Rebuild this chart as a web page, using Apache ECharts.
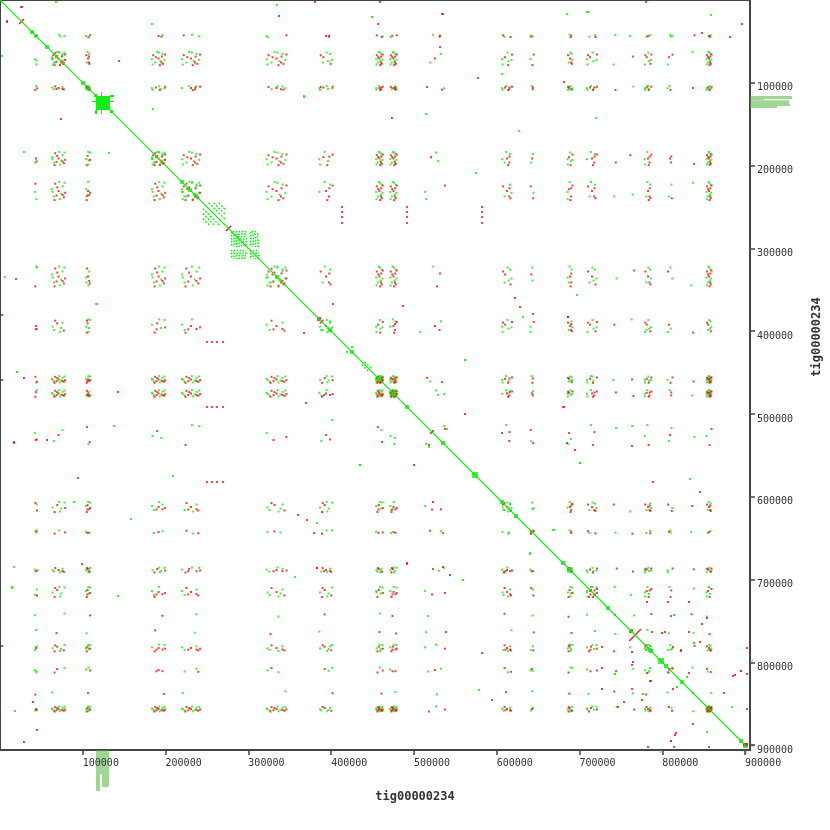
<!DOCTYPE html>
<html>
<head>
<meta charset="utf-8">
<script src="https://cdn.jsdelivr.net/npm/echarts@6/dist/echarts.min.js"></script>
<style>
html, body { margin: 0; padding: 0; background: #fff; }
#chart { width: 830px; height: 830px; }
</style>
</head>
<body>
<div id="chart"></div>
<script>
var seqName = 'tig00000234'
var seqLen = 900000
var axisMax = 906000
var tickStep = 100000

// repeat loci along the contig: centre (bp), half width (bp), strength 0..3
var lociCentre = [43500, 70700, 106300, 191500, 230700, 334000, 393800, 458400, 475300, 525500, 612500, 642700, 688600, 715100, 743000, 763500, 782800, 809400, 837000, 856500]
var lociHalf = [1500, 8000, 2500, 8000, 11000, 12000, 8000, 4000, 4000, 12000, 6000, 2000, 3000, 6000, 2000, 2500, 4000, 3000, 2000, 3000]
var lociWeight = [1, 3, 2, 3, 3, 3, 2, 3, 3, 1, 2, 1, 2, 2, 0, 0, 2, 1, 0, 3]

// hits inside one locus x locus box: u, v (-1..1), 1 = reverse strand
var boxDots = [
	[0.0, 0.0, 1], [-0.7, 0.6, 0], [0.6, -0.5, 0], [0.8, 0.7, 1],
	[-0.5, -0.8, 1], [0.2, 0.9, 0], [-0.9, 0.1, 0], [0.4, 0.3, 0],
	[-0.2, -0.4, 1], [0.9, -0.9, 0], [-0.6, 1.0, 1], [0.1, -1.0, 0],
	[1.0, 0.2, 1], [-1.0, -0.2, 0], [-0.3, 0.5, 1], [0.6, 0.45, 1]
]
var boxDotCount = [1, 3, 8, 16]

// single hits: x, y, reverse
var strays = [
	[402300, 367200, 1], [486800, 369600, 1], [628200, 370900, 1], [631800, 382900, 0],
	[643900, 379300, 1], [686100, 382900, 1], [507400, 401100, 0], [425200, 419200, 0],
	[561700, 434900, 0], [680100, 491700, 1], [561700, 500100, 1], [540000, 518200, 0],
	[694600, 543600, 1], [700600, 559300, 0], [434900, 561700, 0], [523100, 606400, 1],
	[668000, 640200, 0], [491700, 681300, 1], [535100, 684900, 1], [559300, 700600, 0],
	[640200, 669200, 0], [382900, 686100, 1], [2400, 380500, 1], [117200, 367200, 0],
	[20500, 449400, 0], [16900, 533900, 1], [209000, 575000, 0], [137700, 514600, 0],
	[158200, 627000, 0], [14500, 709100, 0], [356400, 697000, 0], [360000, 622100, 1],
	[788800, 582300, 1], [845600, 594300, 1], [833500, 578600, 0], [763500, 538800, 1],
	[25400, 8500, 1], [8500, 26600, 1], [67600, 2400, 0], [334600, 6000, 0],
	[459000, 2400, 1], [780400, 2400, 1], [337000, 19300, 1], [449400, 20500, 0],
	[535100, 16900, 1], [684900, 16900, 0], [710300, 14500, 0], [858900, 18100, 0],
	[896300, 29000, 1], [456600, 29000, 1], [183600, 29000, 0], [848000, 39900, 1],
	[881800, 44700, 1], [531500, 56800, 1], [143800, 73700, 1], [606400, 89400, 0],
	[577400, 94200, 1], [681300, 99100, 1], [367200, 116000, 0], [184800, 131700, 0],
	[720000, 142500, 0], [473500, 142500, 1], [781600, 727200, 1], [806900, 727200, 1],
	[832300, 727200, 1], [814200, 742900, 0], [848000, 753800, 1], [799700, 764700, 1],
	[832300, 763500, 1], [838400, 776700, 0], [813000, 781600, 1], [822600, 786400, 1],
	[763500, 787600, 1], [763500, 803300, 1], [785200, 806900, 0], [742900, 814200, 0],
	[832300, 813000, 1], [829900, 817800, 0], [887900, 815400, 1], [895100, 810600, 1],
	[785200, 822600, 1], [817800, 829900, 0], [776700, 838400, 0], [874600, 837100, 1],
	[775500, 845600, 1], [746500, 854100, 1], [816600, 885500, 1], [810600, 895100, 1],
	[814200, 902400, 1], [782800, 902400, 1], [884300, 854100, 0], [902400, 856500, 1],
	[250000, 413100, 1], [256000, 413100, 1], [262000, 413100, 1], [269400, 413100, 1],
	[250000, 491700, 1], [256000, 491700, 1], [262000, 491700, 1], [269400, 491700, 1],
	[250000, 582300, 1], [256000, 582300, 1], [262000, 582300, 1], [269400, 582300, 1]
]

// small squares sitting on the main diagonal (bp)
var diagBlobs = [38700, 56800, 100300, 219900, 229500, 236800, 334600, 398600, 425200, 457800, 476000, 491700, 535100, 606400, 623300, 680100, 734500, 786400, 804500, 823900, 895100]
var bigDiagBlobs = [573800, 798500]
var redDiagBlobs = [385400]

// reverse-strand crossings: x1, y1, x2, y2
var revSegments = [
	[23000, 29000, 29000, 23000],
	[273000, 279000, 279000, 273000],
	[760000, 774300, 774300, 760000]
]

// tandem repeats: start, end, shifts of the parallel copies
var tandemStart = [245000, 437000]
var tandemEnd = [272000, 449000]
var tandemShifts = [[7000, 13000, 19000], [3600]]

// lattice of a short-period repeat
var latticeSpans = [[279000, 298400], [302000, 312900]]
var latticeStep = 3600

// filled boxes: x1, y1, x2, y2, reverse
var boxes = [
	[116000, 116000, 133000, 133000, 0],
	[113600, 113600, 117200, 117200, 0],
	[132900, 114800, 137700, 117200, 0],
	[114800, 132900, 117200, 137700, 0],
	[132900, 132900, 136500, 136500, 0],
	[111100, 122000, 116000, 123200, 0],
	[133000, 122000, 137700, 123200, 0],
	[122000, 111100, 123200, 116000, 0],
	[122000, 133000, 123200, 137700, 0],
	[759800, 759800, 764700, 764700, 0],
	[897500, 897500, 903500, 901000, 1],
	[897500, 901000, 903500, 903300, 0]
]

// coverage histograms of the tandem block: start, end, depth
var histBins = [
	[116000, 120800, 41], [120800, 123200, 24], [123200, 130500, 37], [130500, 131700, 36],
	[797000, 799000, 3], [899000, 902000, 4]
]
var histBinsY = [
	[116000, 119600, 42], [119600, 121000, 14], [121000, 125600, 39], [125600, 128000, 40],
	[128000, 130500, 27], [797000, 799000, 3], [899000, 902000, 4]
]

var green = '#11ee11'
var red = '#ee1111'
var histGreen = '#9fd694'
var axisColor = '#444'
var monoFont = 'DejaVu Sans Mono'

var greenDots = []
var redDots = []
function addDot(x, y, rev) {
	var list = rev ? redDots : greenDots
	list.push([x, y])
	if (x !== y) list.push([y, x])
}
for (var i = 0; i < lociCentre.length; i++) {
	for (var j = i; j < lociCentre.length; j++) {
		var n = boxDotCount[Math.min(lociWeight[i], lociWeight[j])]
		var start = (i * 3 + j * 5) % boxDots.length
		for (var k = 0; k < n; k++) {
			var d = boxDots[(start + k) % boxDots.length]
			addDot(lociCentre[i] + d[0] * lociHalf[i], lociCentre[j] + d[1] * lociHalf[j], d[2])
		}
	}
}
strays.forEach(function (s) {
	addDot(s[0], s[1], s[2])
})

var segments = []
revSegments.forEach(function (s) {
	segments.push([s[0], s[1], s[2], s[3], 1])
})
var dashedSegments = []
tandemStart.forEach(function (a, t) {
	var b = tandemEnd[t]
	tandemShifts[t].forEach(function (s) {
		dashedSegments.push([a + s, a, b, b - s])
		dashedSegments.push([a, a + s, b - s, b])
	})
})
latticeSpans.forEach(function (sx) {
	latticeSpans.forEach(function (sy) {
		var base = sx[0] - sy[0]
		for (var off = base - (sy[1] - sy[0]); off <= base + (sx[1] - sx[0]); off += latticeStep) {
			var x1 = Math.max(sx[0], sy[0] + off)
			var x2 = Math.min(sx[1], sy[1] + off)
			if (x2 - x1 > 1500) dashedSegments.push([x1, x1 - off, x2, x2 - off])
		}
	})
})

function segItem(dash) {
	return function (params, api) {
		var a = api.coord([api.value(0), api.value(1)])
		var b = api.coord([api.value(2), api.value(3)])
		return {
			type: 'line',
			shape: { x1: a[0], y1: a[1], x2: b[0], y2: b[1] },
			style: { stroke: api.value(4) ? red : green, lineWidth: 1.3, lineDash: dash },
		}
	}
}
function boxItem(params, api) {
	var a = api.coord([api.value(0), api.value(1)])
	var b = api.coord([api.value(2), api.value(3)])
	return {
		type: 'rect',
		shape: { x: Math.min(a[0], b[0]), y: Math.min(a[1], b[1]), width: Math.abs(b[0] - a[0]), height: Math.abs(b[1] - a[1]) },
		style: { fill: api.value(4) ? red : green },
	}
}
function histItemX(params, api) {
	var a = api.coord([api.value(0), 0])
	var b = api.coord([api.value(1), api.value(2)])
	return {
		type: 'rect',
		shape: { x: a[0], y: a[1], width: b[0] - a[0], height: b[1] - a[1] },
		style: { fill: histGreen },
	}
}
function histItemY(params, api) {
	var a = api.coord([0, api.value(0)])
	var b = api.coord([api.value(2), api.value(1)])
	return {
		type: 'rect',
		shape: { x: a[0], y: a[1], width: b[0] - a[0], height: b[1] - a[1] },
		style: { fill: histGreen },
	}
}

var tickLabel = {
	fontFamily: monoFont,
	fontSize: 10,
	color: '#333',
	showMinLabel: false,
	showMaxLabel: false,
	formatter: function (v) {
		return String(v)
	},
}

var chart = echarts.init(document.getElementById('chart'))
chart.setOption({
	animation: false,
	backgroundColor: '#fff',
	grid: [
		{ left: 0, top: 0, width: 750, height: 750, show: true, borderColor: axisColor, borderWidth: 2, backgroundColor: 'transparent' },
		{ left: 0, top: 750, width: 750, height: 50 },
		{ left: 750, top: 0, width: 50, height: 750 },
	],
	xAxis: [
		{
			gridIndex: 0,
			type: 'value',
			position: 'bottom',
			min: 0,
			max: axisMax,
			interval: tickStep,
			z: 10,
			splitLine: { show: false },
			axisLine: { onZero: false, lineStyle: { color: axisColor, width: 1.5 } },
			axisTick: { length: 5, lineStyle: { color: axisColor, width: 1.5 } },
			axisLabel: Object.assign({ align: 'left', margin: 8 }, tickLabel),
		},
		{ gridIndex: 1, type: 'value', min: 0, max: axisMax, show: false },
		{ gridIndex: 2, type: 'value', min: 0, max: 50, show: false },
	],
	yAxis: [
		{
			gridIndex: 0,
			type: 'value',
			position: 'right',
			inverse: true,
			min: 0,
			max: axisMax,
			interval: tickStep,
			z: 10,
			splitLine: { show: false },
			axisLine: { onZero: false, lineStyle: { color: axisColor, width: 1.5 } },
			axisTick: { length: 5, lineStyle: { color: axisColor, width: 1.5 } },
			axisLabel: Object.assign({ verticalAlign: 'top', margin: 7 }, tickLabel),
		},
		{ gridIndex: 1, type: 'value', min: 0, max: 50, inverse: true, show: false },
		{ gridIndex: 2, type: 'value', min: 0, max: axisMax, inverse: true, show: false },
	],
	graphic: [
		{
			type: 'text',
			x: 415,
			y: 797,
			style: { text: seqName, font: 'bold 12px "DejaVu Sans Mono"', fill: '#333', textAlign: 'center', textVerticalAlign: 'middle' },
		},
		{
			type: 'text',
			x: 817,
			y: 337,
			rotation: Math.PI / 2,
			style: { text: seqName, font: 'bold 12px "DejaVu Sans Mono"', fill: '#333', textAlign: 'center', textVerticalAlign: 'middle' },
		},
	],
	series: [
		{
			type: 'custom',
			xAxisIndex: 1,
			yAxisIndex: 1,
			z: 1,
			silent: true,
			renderItem: histItemX,
			data: histBins,
		},
		{
			type: 'custom',
			xAxisIndex: 2,
			yAxisIndex: 2,
			z: 1,
			silent: true,
			renderItem: histItemY,
			data: histBinsY,
		},
		{
			type: 'line',
			silent: true,
			symbol: 'none',
			lineStyle: { color: green, width: 1.2 },
			data: [[0, 0], [seqLen, seqLen]],
		},
		{
			type: 'custom',
			silent: true,
			renderItem: segItem([2, 1.5]),
			data: dashedSegments,
		},
		{
			type: 'custom',
			silent: true,
			renderItem: segItem(null),
			data: segments,
		},
		{
			type: 'custom',
			silent: true,
			renderItem: boxItem,
			data: boxes,
		},
		{
			type: 'scatter',
			silent: true,
			symbol: 'rect',
			symbolSize: 2,
			itemStyle: { color: green },
			data: greenDots,
		},
		{
			type: 'scatter',
			silent: true,
			symbol: 'rect',
			symbolSize: 2,
			itemStyle: { color: red },
			data: redDots,
		},
		{
			type: 'scatter',
			silent: true,
			symbol: 'rect',
			symbolSize: 4,
			itemStyle: { color: green },
			data: diagBlobs.map(function (p) { return [p, p] }),
		},
		{
			type: 'scatter',
			silent: true,
			symbol: 'rect',
			symbolSize: 6,
			itemStyle: { color: green },
			data: bigDiagBlobs.map(function (p) { return [p, p] }),
		},
		{
			type: 'scatter',
			silent: true,
			symbol: 'rect',
			symbolSize: 4,
			itemStyle: { color: red },
			data: redDiagBlobs.map(function (p) { return [p, p] }),
		},
	],
})
</script>
</body>
</html>
